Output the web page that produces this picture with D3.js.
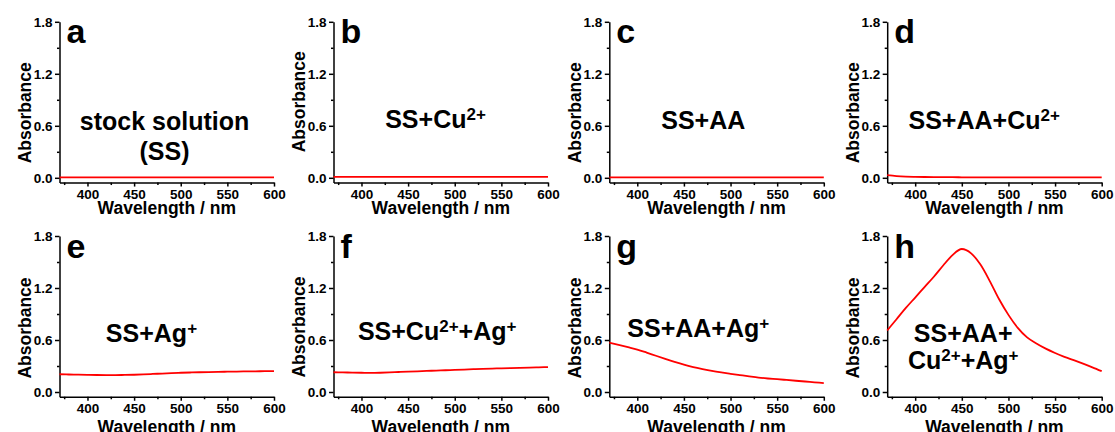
<!DOCTYPE html>
<html>
<head>
<meta charset="utf-8">
<script src="https://cdn.jsdelivr.net/npm/d3@7"></script>
<style>
  html, body { margin: 0; padding: 0; background: #fff; }
  svg { display: block; }
  text { font-family: "Liberation Sans", Arial, sans-serif; font-weight: bold; fill: #000; }
</style>
</head>
<body>
<svg id="chart" width="1115" height="432"></svg>
<script>
// ---------------- data ----------------
const wavelength = [370,380,390,400,410,420,430,440,450,460,470,480,490,500,510,520,530,540,550,560,570,580,590,600];

const absA = [0.004,0.004,0.004,0.004,0.004,0.004,0.004,0.004,0.004,0.004,0.004,0.004,0.004,0.004,0.004,0.004,0.004,0.004,0.004,0.004,0.004,0.004,0.004,0.004];
const absB = [0.010,0.010,0.010,0.010,0.010,0.010,0.010,0.010,0.010,0.010,0.010,0.010,0.010,0.010,0.010,0.010,0.010,0.010,0.010,0.010,0.010,0.010,0.010,0.010];
const absC = [0.005,0.005,0.005,0.005,0.005,0.005,0.005,0.005,0.005,0.005,0.005,0.005,0.005,0.005,0.005,0.005,0.005,0.005,0.005,0.005,0.005,0.005,0.005,0.005];
const absD = [0.030,0.020,0.014,0.011,0.009,0.008,0.007,0.007,0.006,0.006,0.006,0.005,0.005,0.005,0.005,0.005,0.004,0.004,0.004,0.004,0.004,0.004,0.004,0.004];
const absE = [0.205,0.202,0.200,0.198,0.196,0.195,0.195,0.197,0.199,0.203,0.208,0.213,0.218,0.222,0.225,0.228,0.230,0.232,0.234,0.236,0.238,0.239,0.240,0.241];
const absF = [0.228,0.226,0.224,0.222,0.220,0.222,0.226,0.231,0.235,0.239,0.243,0.247,0.251,0.255,0.259,0.263,0.267,0.270,0.273,0.276,0.279,0.282,0.285,0.287];
const absG = [0.570,0.545,0.518,0.490,0.455,0.418,0.382,0.347,0.315,0.288,0.265,0.244,0.226,0.210,0.195,0.180,0.166,0.156,0.148,0.139,0.130,0.121,0.112,0.103];
const absH = [0.710,0.840,0.970,1.090,1.210,1.330,1.460,1.580,1.650,1.600,1.470,1.280,1.070,0.890,0.740,0.630,0.560,0.500,0.450,0.405,0.367,0.327,0.285,0.240];

const series = [absA, absB, absC, absD, absE, absF, absG, absH];
const panelLetters = ["a","b","c","d","e","f","g","h"];

// label lines: each line is a list of [text, isSuperscript]
const panelLabels = [
  [[["stock solution", false]], [["(SS)", false]]],
  [[["SS+Cu", false], ["2+", true]]],
  [[["SS+AA", false]]],
  [[["SS+AA+Cu", false], ["2+", true]]],
  [[["SS+Ag", false], ["+", true]]],
  [[["SS+Cu", false], ["2+", true], ["+Ag", false], ["+", true]]],
  [[["SS+AA+Ag", false], ["+", true]]],
  [[["SS+AA+", false]], [["Cu", false], ["2+", true], ["+Ag", false], ["+", true]]]
];

const xMajorTicks = [400, 450, 500, 550, 600];
const xMinorTicks = [375, 425, 475, 525, 575];
const yMajorTicks = [0, 0.6, 1.2, 1.8];
const yMinorTicks = [0.3, 0.9, 1.5];
const xDomain = [370, 600];
const yDomain = [-0.055, 1.8];

// ---------------- layout ----------------
const colLeft = [59.5, 333.5, 609.3, 887.2];
const rowZero = [177.8, 392.0];
const plotW = 214.5;
const unitH = 156 / 1.8;
const titleOffset = [31.6, 35.8];
const absLabelOffset = [-65, -76, -65, -65, -64, -65, -64, -64];
// label anchor in data coords (nm, absorbance) for first line, second line
const labelPos = [
  [482.6, [0.551, 0.205]],
  [479.4, [0.570]],
  [470.8, [0.559]],
  [474.0, [0.565]],
  [468.6, [0.577]],
  [481.2, [0.596]],
  [465.4, [0.634]],
  [451.5, [0.580, 0.262]]
];

const svg = d3.select("#chart");

series.forEach((vals, i) => {
  const col = i % 4, row = Math.floor(i / 4);
  const left = colLeft[col], zero = rowZero[row];
  const x = d3.scaleLinear().domain(xDomain).range([left, left + plotW]);
  const y = d3.scaleLinear().domain(yDomain)
    .range([zero - yDomain[0] * unitH, zero - yDomain[1] * unitH]);
  const axisY = y(yDomain[0]);
  const g = svg.append("g");

  // x axis
  const xa = g.append("g").attr("transform", `translate(0,${axisY})`)
    .call(d3.axisBottom(x).tickValues(xMajorTicks).tickSize(4).tickSizeOuter(0)
      .tickPadding(2.5).tickFormat(d3.format("d")));
  const xm = g.append("g").attr("transform", `translate(0,${axisY})`)
    .call(d3.axisBottom(x).tickValues(xMinorTicks).tickSize(2.5).tickSizeOuter(0).tickFormat(""));
  xm.select(".domain").remove();

  // y axis
  const ya = g.append("g").attr("transform", `translate(${left},0)`)
    .call(d3.axisLeft(y).tickValues(yMajorTicks).tickSize(4.5).tickSizeOuter(0)
      .tickPadding(2.5).tickFormat(d3.format(".1f")));
  const ym = g.append("g").attr("transform", `translate(${left},0)`)
    .call(d3.axisLeft(y).tickValues(yMinorTicks).tickSize(2.5).tickSizeOuter(0).tickFormat(""));
  ym.select(".domain").remove();

  [xa, xm, ya, ym].forEach(a => {
    a.attr("font-family", null).attr("font-size", null);
    a.selectAll("path, line").attr("stroke", "#000").attr("stroke-width", 1.5);
    a.selectAll("text").style("font-size", "13.5px").attr("fill", "#000");
  });

  // curve
  const line = d3.line()
    .x((d, k) => x(wavelength[k]))
    .y(d => y(d))
    .curve(d3.curveMonotoneX);
  g.append("path").datum(vals)
    .attr("d", line)
    .attr("fill", "none")
    .attr("stroke", "#ff0000")
    .attr("stroke-width", 1.8);

  // axis titles
  g.append("text")
    .attr("x", left + plotW / 2)
    .attr("y", axisY + titleOffset[row])
    .attr("text-anchor", "middle")
    .style("font-size", "17.5px")
    .text("Wavelength / nm");

  g.append("text")
    .attr("transform", `translate(${left - 28.7},${zero + absLabelOffset[i]}) rotate(-90)`)
    .attr("text-anchor", "middle")
    .style("font-size", "17.5px")
    .text("Absorbance");

  // panel letter
  g.append("text")
    .attr("x", left + 7)
    .attr("y", y(1.8) + 21.5)
    .style("font-size", "34px")
    .text(panelLetters[i]);

  // annotation
  const [lx, lys] = labelPos[i];
  panelLabels[i].forEach((segs, li) => {
    const t = g.append("text")
      .attr("x", x(lx))
      .attr("y", y(lys[li]))
      .attr("text-anchor", "middle")
      .style("font-size", "25px");
    let raised = false;
    segs.forEach(([txt, sup]) => {
      const ts = t.append("tspan").text(txt);
      if (sup && !raised) { ts.attr("dy", -8).style("font-size", "17px"); raised = true; }
      else if (sup) { ts.style("font-size", "17px"); }
      else if (!sup && raised) { ts.attr("dy", 8); raised = false; }
    });
  });
});
</script>
</body>
</html>
